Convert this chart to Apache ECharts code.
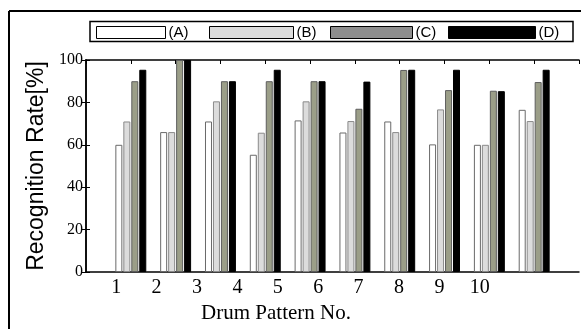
<!DOCTYPE html>
<html>
<head>
<meta charset="utf-8">
<script src="https://cdn.jsdelivr.net/npm/echarts@6/dist/echarts.min.js"></script>
<style>html,body{margin:0;padding:0;background:#fff;}#c{width:581px;height:329px;}</style>
</head>
<body>
<div id="c"></div>
<script>
const patterns = [1, 2, 3, 4, 5, 6, 7, 8, 9, 10];
const patternLabels = ['1', '2', '3', '4', '5', '6', '7', '8', '9', '10'];
const seriesNames = ['(A)', '(B)', '(C)', '(D)'];
const rateA = [60, 66, 71, 55.3, 71.5, 65.8, 71, 60.2, 60, 76.5];
const rateB = [71, 66, 80.5, 65.7, 80.5, 71.2, 66, 76.7, 60, 71.2];
const rateC = [90, 100, 90, 90, 90, 77, 95.3, 85.8, 85.5, 89.6];
const rateD = [95.4, 100, 90, 95.4, 90, 89.8, 95.4, 95.4, 85.3, 95.4];
const yTicks = [0, 20, 40, 60, 80, 100];

const chart = echarts.init(document.getElementById('c'), null, {renderer: 'canvas'});
const serif = 'Liberation Serif';
const sans = 'Liberation Sans';
const fills = ['#ffffff', '#dcdcdc', '#9b9e88', '#000000'];
const borders = ['#6a6a6a', '#8a8a8a', '#5e5e5e', '#000000'];
const legendFills = ['#ffffff', '#dcdcdc', '#8e8e8e', '#000000'];
const legendLeft = [96, 209, 330, 448];
const legendW = [69, 84, 82, 87];
const rates = [rateA, rateB, rateC, rateD];

const option = {
  animation: false,
  backgroundColor: '#fff',
  grid: [
    {left: 86, right: 2, top: 60, bottom: 57, show: false},
    {left: 96, width: 404, top: 60, bottom: 57, show: false}
  ],
  legend: seriesNames.map((n, i) => ({
    data: [n], left: legendLeft[i], top: 25, padding: 0,
    itemWidth: legendW[i], itemHeight: 12, itemGap: 0,
    icon: 'rect',
    itemStyle: {color: legendFills[i], borderColor: '#000', borderWidth: 1},
    textStyle: {fontFamily: sans, fontSize: 15, color: '#000', padding: [0, 0, 0, -2]},
    selectedMode: false
  })),
  xAxis: [
    {type: 'value', gridIndex: 0, min: 0, max: 11, interval: 1, position: 'bottom',
     axisLine: {show: true, onZero: false, lineStyle: {color: '#000', width: 1.5}},
     axisTick: {show: false}, axisLabel: {show: false}, splitLine: {show: false}},
    {type: 'value', gridIndex: 0, min: 0, max: 11, interval: 1, position: 'top',
     axisLine: {show: true, onZero: false, lineStyle: {color: '#000', width: 1.5}},
     axisTick: {show: true, inside: true, length: 4, lineStyle: {color: '#000'}},
     axisLabel: {show: false}, splitLine: {show: false}},
    {type: 'category', gridIndex: 1, data: patternLabels, position: 'bottom',
     axisLine: {show: false}, axisTick: {show: false},
     axisLabel: {fontFamily: serif, fontSize: 20, color: '#000', margin: 8},
     name: 'Drum Pattern No.', nameLocation: 'middle', nameGap: 30,
     nameTextStyle: {fontFamily: serif, fontSize: 21, color: '#000', padding: [0, 44, 0, 0]}}
  ],
  yAxis: [
    {type: 'value', gridIndex: 0, min: 0, max: 100, interval: 20, position: 'left',
     axisLine: {show: true, lineStyle: {color: '#000', width: 1.5}},
     axisTick: {show: true, inside: true, length: 4, lineStyle: {color: '#000'}},
     axisLabel: {fontFamily: serif, fontSize: 16, color: '#000', margin: 3,
       formatter: v => yTicks.includes(v) ? String(v) : ''},
     splitLine: {show: false},
     name: 'Recognition Rate[%]', nameLocation: 'middle', nameGap: 37, nameRotate: 90,
     nameTextStyle: {fontFamily: sans, fontSize: 23, color: '#000'}},
    {type: 'value', gridIndex: 0, min: 0, max: 100, interval: 20, position: 'right',
     axisLine: {show: true, lineStyle: {color: '#000', width: 1.5}},
     axisTick: {show: true, inside: true, length: 5, lineStyle: {color: '#000'}},
     axisLabel: {show: false}, splitLine: {show: false}},
    {type: 'value', gridIndex: 1, min: 0, max: 100, show: false}
  ],
  series: seriesNames.map((n, i) => ({
    name: n, type: 'bar', xAxisIndex: 0, yAxisIndex: 0,
    barWidth: 7, barGap: '14%',
    itemStyle: {color: fills[i], borderColor: borders[i], borderWidth: 1},
    data: patterns.map((p, j) => [p, rates[i][j]])
  })),
  graphic: [
    {type: 'line', shape: {x1: 9, y1: 11, x2: 581, y2: 11}, style: {stroke: '#000', lineWidth: 2}},
    {type: 'line', shape: {x1: 9, y1: 11, x2: 9, y2: 329}, style: {stroke: '#000', lineWidth: 2}},
    {type: 'rect', shape: {x: 90, y: 21.5, width: 483, height: 20}, style: {fill: 'none', stroke: '#000', lineWidth: 1.5}, z: 100}
  ]
};
chart.setOption(option);
</script>
</body>
</html>
